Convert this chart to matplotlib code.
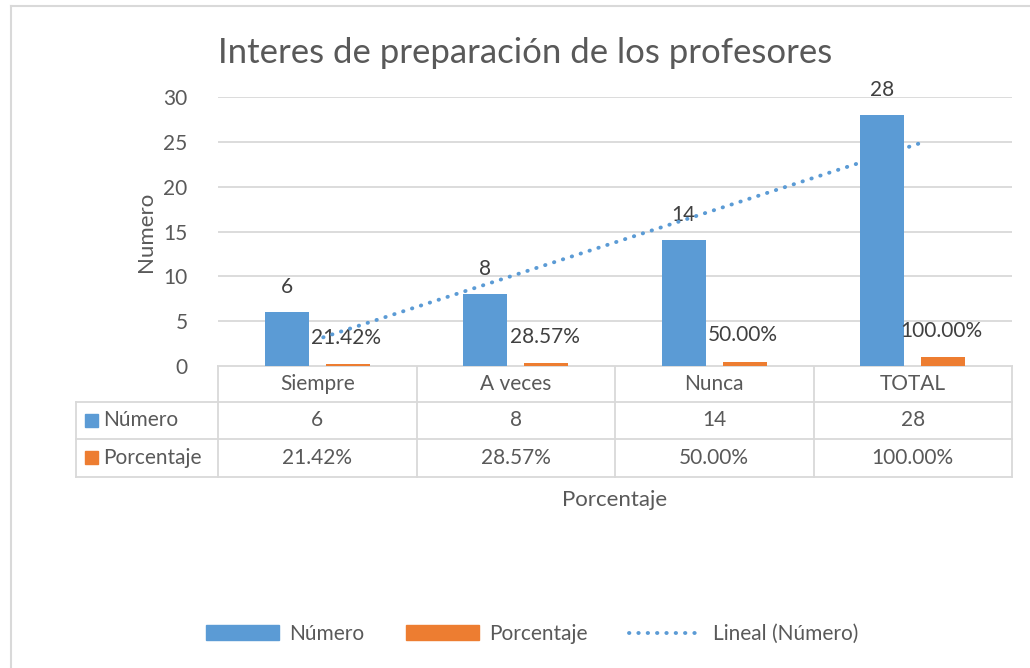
import numpy as np
import matplotlib.pyplot as plt
from matplotlib.patches import Patch
from matplotlib.lines import Line2D

plt.rcParams['font.family'] = ['Lato', 'DejaVu Sans']

# data
categorias = ['Siempre', 'A veces', 'Nunca', 'TOTAL']
numero = [6, 8, 14, 28]
porcentaje = [0.2142, 0.2857, 0.50, 1.00]
etiq_numero = ['6', '8', '14', '28']
etiq_porcentaje = ['21.42%', '28.57%', '50.00%', '100.00%']

azul = '#5b9bd5'
naranja = '#ed7d31'
gris_txt = '#595959'
gris_lin = '#d9d9d9'
fs = 15

W, H = 1030, 668
fig = plt.figure(figsize=(W / 100, H / 100), dpi=100)

# plot area in pixels
x0, x1, y0, y1 = 218, 1012, 366, 97
ax = fig.add_axes([x0 / W, 1 - y0 / H, (x1 - x0) / W, (y0 - y1) / H])

x = np.arange(len(categorias))
bw = 0.222
ax.bar(x - 0.153, numero, bw, color=azul, zorder=2)
ax.bar(x + 0.153, porcentaje, bw, color=naranja, zorder=2)

for xi, v, t in zip(x, numero, etiq_numero):
    ax.annotate(t, (xi - 0.153, v), xytext=(0, 18), textcoords='offset points',
                ha='center', va='center', fontsize=fs, color='#404040')
for xi, v, t in zip(x, porcentaje, etiq_porcentaje):
    ax.annotate(t, (xi + 0.153, v), xytext=(-1, 19), textcoords='offset points',
                ha='center', va='center', fontsize=fs, color='#404040')

# linear trendline of Numero
m, b = np.polyfit(x + 1, numero, 1)
xt = np.array([x[0], x[-1]])
dots = (0, (0.1, 2.3))
ax.plot(xt + 0.03, m * (xt + 1) + b, color=azul, lw=2.8, ls=dots,
        dash_capstyle='round', zorder=3)

ax.set_xlim(-0.5, len(categorias) - 0.5)
ax.set_ylim(0, 30)
ax.set_yticks(range(0, 31, 5))
ax.tick_params(axis='y', length=0, labelsize=fs, labelcolor=gris_txt, pad=22)
ax.set_xticks([])
ax.grid(axis='y', color=gris_lin, lw=1.3, zorder=0)
for s in ax.spines.values():
    s.set_visible(False)
ax.set_ylabel('Numero', fontsize=16, color=gris_txt, labelpad=5)

# data table drawn on a pixel overlay
ov = fig.add_axes([0, 0, 1, 1], zorder=-1)
ov.set_xlim(0, W)
ov.set_ylim(H, 0)
ov.axis('off')

cols = np.linspace(x0, x1, len(categorias) + 1)
rows = [366, 402, 439, 477]
tleft = 76
kw = dict(color=gris_lin, lw=1.3)
ov.plot([x0, x1], [rows[0], rows[0]], **kw)
for r in rows[1:]:
    ov.plot([tleft, x1], [r, r], **kw)
for c in cols:
    ov.plot([c, c], [rows[0], rows[-1]], **kw)
ov.plot([tleft, tleft], [rows[1], rows[-1]], **kw)

centers = (cols[:-1] + cols[1:]) / 2
tk = dict(ha='center', va='center', fontsize=fs, color=gris_txt)
for cx, cat, n, p in zip(centers, categorias, etiq_numero, etiq_porcentaje):
    ov.text(cx, (rows[0] + rows[1]) / 2, cat, **tk)
    ov.text(cx, (rows[1] + rows[2]) / 2, n, **tk)
    ov.text(cx, (rows[2] + rows[3]) / 2, p, **tk)

for r, nombre, col in [(0, 'Número', azul), (1, 'Porcentaje', naranja)]:
    yc = (rows[1 + r] + rows[2 + r]) / 2
    ov.add_patch(plt.Rectangle((85, yc - 7), 13, 13, color=col))
    ov.text(103, yc, nombre, ha='left', va='center', fontsize=fs, color=gris_txt)

ov.text((x0 + x1) / 2, 500, 'Porcentaje', ha='center', va='center',
        fontsize=16, color=gris_txt)

# outer chart border (top/left only visible)
ov.plot([11, 11], [6, H], color=gris_lin, lw=1.5)
ov.plot([11, W], [6, 6], color=gris_lin, lw=1.5)

fig.text(525 / W, 1 - 53 / H, 'Interes de preparación de los profesores',
         ha='center', va='center', fontsize=25, color=gris_txt)

handles = [Patch(color=azul), Patch(color=naranja),
           Line2D([], [], color=azul, lw=2.8, ls=dots, dash_capstyle='round')]
fig.legend(handles, ['Número', 'Porcentaje', 'Lineal (Número)'], loc='center',
           bbox_to_anchor=(532 / W, 1 - 634 / H), ncol=3, frameon=False,
           fontsize=fs, labelcolor=gris_txt, handlelength=3.5, handleheight=0.75,
           columnspacing=2.0, handletextpad=0.5)

fig.savefig('out.png', dpi=100)
